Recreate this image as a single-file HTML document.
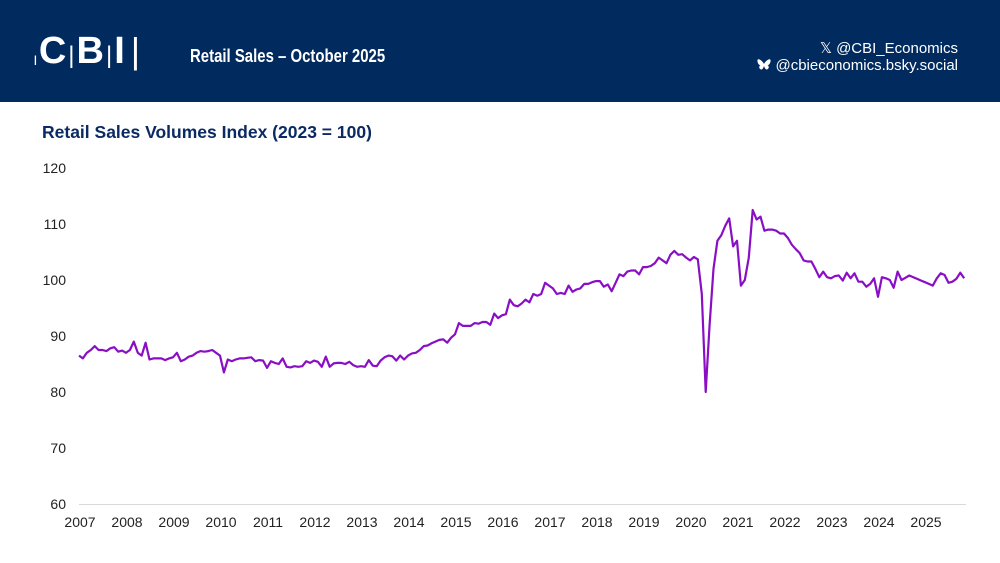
<!DOCTYPE html>
<html><head><meta charset="utf-8"><style>
body{margin:0;width:1000px;height:563px;background:#fff;font-family:"Liberation Sans",sans-serif;overflow:hidden;position:relative}
#hdr{position:absolute;left:0;top:0;width:1000px;height:102px;background:#012a5e}
.t{position:absolute;white-space:nowrap}
</style></head><body>
<div id="hdr">
  <div class="t" style="left:34px;top:30px;color:#fff;font-size:38px;font-weight:bold;letter-spacing:2px">
    <span style="font-size:10px">|</span>C<span style="font-weight:normal;font-size:24px">|</span>B<span style="font-weight:normal;font-size:24px">|</span>I<span style="font-weight:normal;font-size:36px;margin-left:4px">|</span></div>
  <div class="t" style="left:190px;top:46px;color:#fff;font-size:18px;font-weight:bold;transform:scaleX(0.83);transform-origin:left">Retail Sales – October 2025</div>
  <div class="t" style="right:42px;top:39px;color:#fff;font-size:15px">𝕏 @CBI_Economics</div>
  <div class="t" style="right:42px;top:57px;color:#fff;font-size:15px"><svg width="14" height="12" viewBox="0 0 14 12" style="vertical-align:-1px"><path d="M7 5C5.5 2 2 -0.5 0.8 0.5C-0.3 1.5 1 6 3.5 6.3C1.5 7 2 10 4 10.5C5.5 10.8 6.5 8.5 7 7C7.5 8.5 8.5 10.8 10 10.5C12 10 12.5 7 10.5 6.3C13 6 14.3 1.5 13.2 0.5C12 -0.5 8.5 2 7 5Z" fill="#fff"/></svg> @cbieconomics.bsky.social</div>
</div>
<div class="t" style="left:42px;top:122px;color:#0b2a63;font-size:17.5px;font-weight:bold">Retail Sales Volumes Index (2023 = 100)</div>
<svg id="chart" width="1000" height="563" style="position:absolute;left:0;top:0"></svg>
<script>
const yTicks=[60,70,80,90,100,110,120];
const years=[2007,2008,2009,2010,2011,2012,2013,2014,2015,2016,2017,2018,2019,2020,2021,2022,2023,2024,2025];
const values=[
86.5,86,87,87.5,88.2,87.5,87.5,87.3,87.8,88,87.2,87.4,
87,87.5,89,87,86.5,88.8,85.8,86,86,86,85.7,86,
86.2,87,85.5,85.8,86.3,86.5,87,87.3,87.2,87.3,87.5,87,
86.5,83.5,85.8,85.5,85.8,86,86,86.1,86.2,85.5,85.7,85.6,
84.3,85.5,85.2,85,86,84.5,84.4,84.6,84.5,84.6,85.5,85.2,
85.6,85.4,84.5,86.3,84.5,85.1,85.2,85.2,85,85.4,84.8,84.5,
84.6,84.5,85.7,84.7,84.6,85.6,86.2,86.5,86.4,85.6,86.5,85.8,
86.5,86.9,87,87.5,88.2,88.3,88.7,89,89.3,89.4,88.8,89.7,
90.3,92.3,91.8,91.8,91.8,92.3,92.2,92.5,92.5,92,94,93.2,
93.7,93.9,96.5,95.5,95.3,95.8,96.5,96,97.5,97.2,97.5,99.5,
99,98.5,97.5,97.7,97.5,99,97.9,98.3,98.5,99.3,99.3,99.6,
99.8,99.8,98.8,99.2,98,99.5,101,100.7,101.5,101.7,101.7,101,
102.3,102.3,102.5,103,104,103.5,103,104.5,105.2,104.5,104.6,104,
103.5,104.1,103.7,97.5,80,92,102,107,108,109.7,111,
106,107,99,100,104,112.5,110.8,111.3,108.8,109,109,108.8,
108.3,108.3,107.5,106.3,105.5,104.8,103.5,103.3,103.3,102,100.5,101.5,
100.5,100.3,100.7,100.8,99.9,101.3,100.3,101.2,99.7,99.7,98.8,99.3,
100.3,97,100.5,100.3,100,98.6,101.5,100,100.4,100.8,100.5,100.2,
99.9,99.6,99.3,99.0,100.3,101.2,100.9,99.5,99.7,100.2,101.3,100.3];
const NS='http://www.w3.org/2000/svg',svg=document.getElementById('chart');
const x0=79,yearW=47,yBase=504,unit=5.6;
const X=m=>x0+m*yearW/12;
const Y=v=>yBase-(v-60)*unit;
function mk(t,a){const e=document.createElementNS(NS,t);for(const k in a)e.setAttribute(k,a[k]);svg.appendChild(e);return e;}
const ax=mk('line',{x1:x0,x2:966,y1:yBase+0.5,y2:yBase+0.5,stroke:'#d9d9d9','stroke-width':1});


yTicks.forEach(v=>{const t=mk('text',{x:66,y:Y(v)+5,'text-anchor':'end','font-size':14,fill:'#222','font-family':'Liberation Sans'});t.textContent=v;

});
years.forEach((yr,i)=>{const t=mk('text',{x:X(i*12)+1,y:527,'text-anchor':'middle','font-size':14,fill:'#222','font-family':'Liberation Sans'});t.textContent=yr;

});
const p=mk('path',{d:values.map((v,i)=>(i?'L':'M')+X(i).toFixed(1)+','+Y(v).toFixed(1)).join(''),fill:'none',stroke:'#8a0fc4','stroke-width':2.2,'stroke-linejoin':'round'});


</script>
</body></html>
